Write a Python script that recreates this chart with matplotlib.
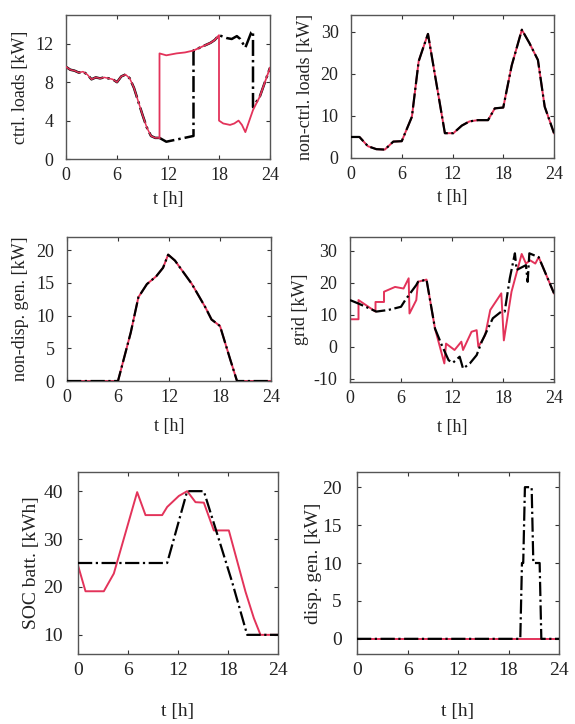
import matplotlib
matplotlib.use("Agg")
import matplotlib.pyplot as plt

plt.rcParams['font.family'] = ['Liberation Serif', 'DejaVu Serif']
plt.rcParams['axes.unicode_minus'] = False

RED = '#e3335a'

# ctrl. loads: shared part up to t=11, then the two schedules split
ctrl_common_t = [0, 0.5, 1, 1.5, 2, 2.5, 3, 3.5, 4, 4.5, 5, 5.5, 6, 6.5, 7, 7.5, 8, 8.5, 9, 9.5, 10, 10.5, 11]
ctrl_common = [9.6, 9.3, 9.2, 9.0, 9.1, 8.8, 8.3, 8.5, 8.4, 8.5, 8.4, 8.3, 8.0, 8.6, 8.8, 8.4, 7.4, 6.0, 4.6, 3.3, 2.4, 2.2, 2.2]
ctrl_red_t = [11, 11, 11.8, 13, 14, 15, 16, 17, 17.5, 18, 18, 18.5, 19.3, 19.8, 20.3, 20.7, 21.1, 22, 22.8, 24]
ctrl_red = [2.2, 11.0, 10.8, 11.0, 11.1, 11.3, 11.7, 12.1, 12.4, 12.9, 4.0, 3.7, 3.55, 3.7, 4.0, 3.55, 2.8, 5.1, 6.5, 9.5]
ctrl_opt_t = [11, 11.8, 13.4, 15, 15, 16, 17, 17.5, 18, 18.9, 19.5, 20.1, 20.5, 21.1, 21.8, 22, 22, 22.8, 24]
ctrl_opt = [2.2, 1.8, 2.1, 2.4, 11.3, 11.7, 12.1, 12.4, 12.9, 12.6, 12.5, 12.8, 12.5, 11.6, 13.2, 13.3, 5.4, 6.5, 9.5]

# non-ctrl. loads (same for both)
nc_t = [0, 1, 2, 3, 4, 5, 6, 7.2, 8, 8.5, 9.1, 11.1, 12.1, 13.1, 14, 15, 16.2, 17, 18, 19, 20.2, 21.1, 22.1, 22.9, 24]
nc = [5, 5, 2.8, 2.1, 2, 3.9, 4, 9.8, 23, 26, 29.5, 5.9, 5.9, 7.7, 8.7, 9, 9, 11.8, 12, 22, 30.5, 27.3, 23.3, 12.2, 5.9]

# non-disp. gen. (same for both)
nd_t = [0, 6, 7.5, 8.4, 9.4, 10.5, 11.3, 11.9, 12.7, 13.7, 14.7, 15.5, 16.3, 17, 18, 19.2, 20, 24]
nd = [0, 0, 7.4, 12.8, 14.8, 16, 17.3, 19.3, 18.4, 16.6, 14.8, 13, 11.2, 9.4, 8.4, 3.3, 0, 0]

# grid
grid_red_t = [0, 1, 1, 3, 3, 4, 4, 5.3, 6.3, 6.9, 7, 7.8, 8, 9, 10, 11.1, 11.3, 12.3, 13.1, 13.3, 14.3,
              14.9, 15.1, 15.9, 16.5, 17.8, 18.1, 19, 20.2, 20.7, 21.2, 21.8, 22.2, 24]
grid_red = [8.6, 8.6, 14.6, 11, 14, 14, 17.2, 18.7, 18.2, 21.4, 10.4, 14.6, 20.3, 21, 5.7, -5.2, 1, -1, 1.6, -1, 4.7,
            5.2, 0, 3.6, 11.5, 16.7, 2, 17.2, 29, 26, 27, 26, 28, 16.7]
grid_opt_t = [0, 1, 3.1, 4.5, 6, 6.5, 7.8, 8, 9, 10, 10.8, 11.6, 12.1, 12.9, 13.3, 14.1, 14.9, 15.5, 16.8,
              17.8, 18.2, 18.8, 19.4, 19.6, 20.7, 20.9, 21.1, 22.2, 24]
grid_opt = [14.6, 13.5, 11, 11.5, 12.5, 14.6, 19.3, 20.3, 21, 5.7, 0.5, -4.2, -5, -3.1, -6.8, -5.2, -2.6, 1.6, 8.9,
            11, 11, 21.4, 29.2, 24, 25.5, 20.3, 29.2, 28, 16.7]

# SOC batt.
soc_red_t = [0, 0.9, 3.1, 4.3, 7.1, 8.1, 10.1, 10.7, 12.1, 13.1, 14.1, 15.1, 16.3, 18.1, 20.1, 21.1, 21.9, 24]
soc_red = [24.5, 19.1, 19.1, 22.8, 39.8, 35, 35, 36.7, 39, 40, 37.7, 37.6, 31.8, 31.8, 19, 13.5, 10, 10]
soc_opt_t = [0, 10.7, 13.1, 15.1, 16.5, 18.5, 20.3, 24]
soc_opt = [25, 25, 40, 40, 32.2, 21, 10, 10]

# disp. gen.
dg_red_t = [0, 24]
dg_red = [0, 0]
dg_opt_t = [0, 19.4, 19.6, 19.75, 19.95, 20.75, 20.95, 21.7, 21.9, 24]
dg_opt = [0, 0, 10, 10, 20, 20, 10, 10, 0, 0]

xticks = [0, 6, 12, 18, 24]

W, H = 575, 724
fig = plt.figure(figsize=(W / 100, H / 100), dpi=100)


def panel(left, right, top, bottom, ylim, yticks, ylabel, fs, ylab_x, xlab_y, ypad=9):
    ax = fig.add_axes([left / W, 1 - bottom / H, (right - left) / W, (bottom - top) / H])
    ax.set_xlim(0, 24)
    ax.set_ylim(*ylim)
    ax.set_xticks(xticks)
    ax.set_yticks(yticks)
    ax.tick_params(direction='in', top=True, right=True, length=3, width=0.8,
                   labelsize=fs, colors='#333333', labelcolor='#222222')
    ax.tick_params(axis='x', pad=6)
    ax.tick_params(axis='y', pad=ypad)
    for s in ax.spines.values():
        s.set_color('#555555')
        s.set_linewidth(1.0)
    ax.set_ylabel(ylabel, fontsize=fs, color='#222222')
    ax.set_xlabel('t [h]', fontsize=fs, color='#222222')
    ax.yaxis.set_label_coords(ylab_x, 0.5)
    ax.xaxis.set_label_coords(0.5, xlab_y)
    return ax


def draw(ax, rt, rv, bt, bv):
    ax.plot(rt, rv, color=RED, lw=1.4, zorder=2)
    ax.plot(bt, bv, color='black', lw=1.6, linestyle='-.', zorder=3)


# top row
ax1 = panel(66, 270, 15, 159, (0, 15), [0, 4, 8, 12], 'ctrl. loads [kW]', 13, -0.18, -0.22)
ax1.plot(ctrl_common_t, ctrl_common, color='black', lw=1.8, linestyle='-.', zorder=2)
ax1.plot(ctrl_opt_t, ctrl_opt, color='black', lw=1.8, linestyle='-.', zorder=2)
ax1.plot(ctrl_common_t, ctrl_common, color=RED, lw=1.1, zorder=3)
ax1.plot(ctrl_red_t, ctrl_red, color=RED, lw=1.3, zorder=3)

ax2 = panel(351, 554, 15, 158, (0, 34), [0, 10, 20, 30], 'non-ctrl. loads [kW]', 13, -0.18, -0.22)
draw(ax2, nc_t, nc, nc_t, nc)

# middle row
ax3 = panel(67, 271, 237, 381, (0, 22), [0, 5, 10, 15, 20], 'non-disp. gen. [kW]', 13, -0.186, -0.255)
draw(ax3, nd_t, nd, nd_t, nd)

ax4 = panel(350, 554, 237, 382, (-11, 34.3), [-10, 0, 10, 20, 30], 'grid [kW]', 13, -0.2, -0.255)
draw(ax4, grid_red_t, grid_red, grid_opt_t, grid_opt)

# bottom row
ax5 = panel(78, 278, 472, 654, (6, 44), [10, 20, 30, 40], 'SOC batt. [kWh]', 14, -0.19, -0.27, ypad=11)
draw(ax5, soc_red_t, soc_red, soc_opt_t, soc_opt)

ax6 = panel(357, 559, 472, 654, (-2, 22), [0, 5, 10, 15, 20], 'disp. gen. [kW]', 14, -0.173, -0.27, ypad=11)
draw(ax6, dg_red_t, dg_red, dg_opt_t, dg_opt)

fig.savefig('out.png', dpi=100)
